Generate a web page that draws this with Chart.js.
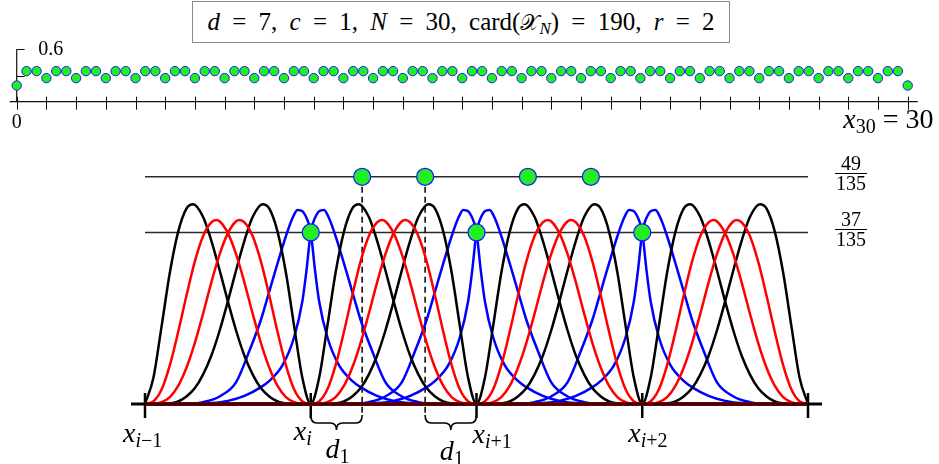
<!DOCTYPE html>
<html>
<head>
<meta charset="utf-8">
<script src="https://cdn.jsdelivr.net/npm/chart.js@4.4.1/dist/chart.umd.min.js"></script>
<style>
  html, body { margin: 0; padding: 0; background: #fff; }
  #page { position: relative; width: 939px; height: 464px; overflow: hidden;
          font-family: 'Liberation Serif', 'DejaVu Serif', serif; color: #000; }
  canvas { position: absolute; left: 0; }
  #topCanvas { top: 40px; }
  #bottomCanvas { top: 140px; }
  #title { position: absolute; left: 192px; top: 1px; width: 538px; height: 42px;
           box-sizing: border-box; border: 1px solid #8c8c8c; display: flex;
           align-items: center; justify-content: center; font-size: 25px; word-spacing: 6px;
           white-space: nowrap; }
  #title .scr { font-family: 'DejaVu Serif', 'DejaVu Sans', serif; font-size: 22px; }
  .lbl { position: absolute; white-space: nowrap; line-height: 1; }
  .sub { position: relative; }
  .bar { position: absolute; height: 0; border-top: 1.2px solid #000; }
</style>
</head>
<body>
<div id="page">
  <div id="title"><span><i>d</i> = 7, <i>c</i> = 1, <i>N</i> = 30, card(<span class="scr">𝒳</span><span class="sub" style="font-size:17px;top:4px"><i>N</i></span>) = 190, <i>r</i> = 2</span></div>
  <canvas id="topCanvas" width="939" height="100"></canvas>
  <canvas id="bottomCanvas" width="939" height="324"></canvas>
</div>
<script>
// ---------- top strip: values at the nodes on [0, 30] ----------
const topX = [
  0,
  0.33, 0.67, 1,   1.33, 1.67, 2,   2.33, 2.67, 3,   3.33, 3.67, 4,   4.33, 4.67, 5,
  5.33, 5.67, 6,   6.33, 6.67, 7,   7.33, 7.67, 8,   8.33, 8.67, 9,   9.33, 9.67, 10,
  10.33, 10.67, 11,   11.33, 11.67, 12,   12.33, 12.67, 13,   13.33, 13.67, 14,   14.33, 14.67, 15,
  15.33, 15.67, 16,   16.33, 16.67, 17,   17.33, 17.67, 18,   18.33, 18.67, 19,   19.33, 19.67, 20,
  20.33, 20.67, 21,   21.33, 21.67, 22,   22.33, 22.67, 23,   23.33, 23.67, 24,   24.33, 24.67, 25,
  25.33, 25.67, 26,   26.33, 26.67, 27,   27.33, 27.67, 28,   28.33, 28.67, 29,   29.33, 29.67, 30
];
const topY = [
  0.185,
  0.35, 0.35, 0.27,   0.35, 0.35, 0.27,   0.35, 0.35, 0.27,   0.35, 0.35, 0.27,   0.35, 0.35, 0.27,
  0.35, 0.35, 0.27,   0.35, 0.35, 0.27,   0.35, 0.35, 0.27,   0.35, 0.35, 0.27,   0.35, 0.35, 0.27,
  0.35, 0.35, 0.27,   0.35, 0.35, 0.27,   0.35, 0.35, 0.27,   0.35, 0.35, 0.27,   0.35, 0.35, 0.27,
  0.35, 0.35, 0.27,   0.35, 0.35, 0.27,   0.35, 0.35, 0.27,   0.35, 0.35, 0.27,   0.35, 0.35, 0.27,
  0.35, 0.35, 0.27,   0.35, 0.35, 0.27,   0.35, 0.35, 0.27,   0.35, 0.35, 0.27,   0.35, 0.35, 0.27,
  0.35, 0.35, 0.27,   0.35, 0.35, 0.27,   0.35, 0.35, 0.27,   0.35, 0.35, 0.27,   0.35, 0.35, 0.185
];
const topTicksX = [0, 1, 2, 3, 4, 5, 6, 7, 8, 9, 10, 11, 12, 13, 14, 15, 16, 17, 18, 19, 20,
                   21, 22, 23, 24, 25, 26, 27, 28, 29, 30];
const topTicksY = [0.3, 0.6];
const topYLabel = '0.6';
const topXFirstLabel = '0';
const topXLastLabel = ['x', '30', ' = 30'];

// ---------- bottom panel: basis functions over four intervals ----------
const knots = [0, 1, 2, 3, 4];
const knotLabels = [['x', 'i−1'], ['x', 'i'], ['x', 'i+1'], ['x', 'i+2'], null];
const blueKnots = [1, 2, 3];

// first black bump of an interval (t = position inside the interval)
const blackT = [0, 0.05, 0.10, 0.15, 0.20, 0.25, 0.29, 0.35, 0.40, 0.45, 0.50, 0.55, 0.60, 0.65, 0.70, 0.75, 0.80, 0.85, 0.90, 1];
const blackV = [0, 0.041, 0.124, 0.210, 0.275, 0.312, 0.319, 0.299, 0.261, 0.214, 0.164, 0.117, 0.077, 0.047, 0.025, 0.012, 0.004, 0.001, 0, 0];
// first red bump of an interval
const redT = [0, 0.05, 0.10, 0.15, 0.20, 0.25, 0.30, 0.35, 0.40, 0.43, 0.45, 0.50, 0.55, 0.60, 0.65, 0.70, 0.75, 0.80, 0.85, 0.90, 0.95, 1];
const redV = [0, 0.004, 0.023, 0.062, 0.115, 0.173, 0.227, 0.268, 0.290, 0.294, 0.292, 0.273, 0.239, 0.194, 0.144, 0.097, 0.058, 0.029, 0.011, 0.003, 0, 0];
// blue knot function peaking just left of its knot (u = offset from the knot)
const blueU = [-0.75, -0.65, -0.55, -0.45, -0.37, -0.30, -0.25, -0.20, -0.15, -0.11, -0.08, -0.05, -0.03, -0.015,
               0, 0.025, 0.05, 0.10, 0.17, 0.25, 0.30, 0.40, 0.50, 0.60, 0.75];
const blueV = [0, 0.003, 0.012, 0.035, 0.085, 0.135, 0.180, 0.225, 0.268, 0.297, 0.310, 0.308, 0.300, 0.290,
               0.275, 0.215, 0.165, 0.107, 0.062, 0.037, 0.027, 0.013, 0.005, 0.0015, 0];

const levels = [49 / 135, 37 / 135];
const levelText = [['49', '135'], ['37', '135']];
const upperDotsX = [1.31, 1.69, 2.31, 2.69];
const lowerDotsX = [1, 2, 3];
const dashX = [1.31, 1.69];
const braces = [[1, 1.31], [1.69, 2]];
const braceLabel = ['d', '1'];

// ---------- styles ----------
const GREEN = '#22ee22', DOT_EDGE = '#1a1aff';
const SERIF = "'Liberation Serif', 'DejaVu Serif', serif";

const page = document.getElementById('page');

// top strip axes
const topAxes = {
  id: 'topAxes',
  beforeDatasetsDraw(chart) {
    const { ctx, scales: { x, y } } = chart;
    const X0 = x.getPixelForValue(0), Y0 = y.getPixelForValue(0);
    ctx.save();
    ctx.strokeStyle = '#111';
    ctx.lineWidth = 1.2;
    ctx.beginPath();
    ctx.moveTo(X0 - 7, Y0);
    ctx.lineTo(x.getPixelForValue(30) + 10, Y0);
    ctx.moveTo(X0, Y0);
    ctx.lineTo(X0, y.getPixelForValue(0.6));
    ctx.stroke();
    ctx.lineWidth = 1;
    ctx.beginPath();
    topTicksX.forEach(v => {
      const px = Math.round(x.getPixelForValue(v)) + 0.5;
      ctx.moveTo(px, Y0 - 5);
      ctx.lineTo(px, Y0 + 8);
    });
    topTicksY.forEach(v => {
      const py = Math.round(y.getPixelForValue(v)) + 0.5;
      ctx.moveTo(X0, py);
      ctx.lineTo(X0 + 8, py);
    });
    ctx.stroke();
    ctx.restore();
  }
};

const topChart = new Chart(document.getElementById('topCanvas'), {
  type: 'scatter',
  data: {
    datasets: [{
      data: topX.map((x, i) => ({ x, y: topY[i] })),
      pointRadius: 4.7,
      pointBackgroundColor: GREEN,
      pointBorderColor: DOT_EDGE,
      pointBorderWidth: 1,
      clip: false
    }]
  },
  options: {
    responsive: false, animation: false, devicePixelRatio: 1, events: [],
    layout: { padding: { left: 16.7, right: 31.3, top: 9.3, bottom: 38.3 } },
    plugins: { legend: { display: false }, tooltip: { enabled: false } },
    scales: {
      x: { type: 'linear', min: 0, max: 30, display: false },
      y: { type: 'linear', min: 0, max: 0.6, display: false }
    }
  },
  plugins: [topAxes]
});

// bottom panel datasets
function curve(points, color, order) {
  const pts = points.slice();
  const lo = knots[0], hi = knots[knots.length - 1];
  if (pts[0].x > lo) pts.unshift({ x: lo, y: 0 });
  if (pts[pts.length - 1].x < hi) pts.push({ x: hi, y: 0 });
  return {
    data: pts, borderColor: color, borderWidth: 2.5, pointRadius: 0,
    cubicInterpolationMode: 'monotone', fill: false, clip: false, order
  };
}

const datasets = [];
for (let j = 0; j < knots.length - 1; j++) {
  const a = knots[j], b = knots[j + 1];
  datasets.push(curve(blackT.map((t, k) => ({ x: a + t * (b - a), y: blackV[k] })), '#000000', 2));
  datasets.push(curve(redT.map((t, k) => ({ x: a + t * (b - a), y: redV[k] })), '#ff0000', 1));
  datasets.push(curve(redT.map((t, k) => ({ x: b - t * (b - a), y: redV[k] })).reverse(), '#ff0000', 1));
  datasets.push(curve(blackT.map((t, k) => ({ x: b - t * (b - a), y: blackV[k] })).reverse(), '#000000', 2));
}
blueKnots.forEach(kn => {
  datasets.push(curve(blueU.map((u, k) => ({ x: kn + u, y: blueV[k] })), '#0000ff', 3));
  datasets.push(curve(blueU.map((u, k) => ({ x: kn - u, y: blueV[k] })).reverse(), '#0000ff', 3));
});
levels.forEach(lv => {
  datasets.push({
    data: [{ x: knots[0], y: lv }, { x: knots[knots.length - 1], y: lv }],
    borderColor: '#2a2a2a', borderWidth: 1.4, pointRadius: 0, fill: false, clip: false, order: 5
  });
});
dashX.forEach(dx => {
  datasets.push({
    data: [{ x: dx, y: levels[0] }, { x: dx, y: -0.015 }],
    borderColor: '#000000', borderWidth: 1.5, borderDash: [6, 4], pointRadius: 0,
    fill: false, clip: false, order: 4
  });
});
datasets.push({
  data: upperDotsX.map(x => ({ x, y: levels[0] })).concat(lowerDotsX.map(x => ({ x, y: levels[1] }))),
  showLine: false, pointRadius: 8.5, pointBackgroundColor: GREEN,
  pointBorderColor: DOT_EDGE, pointBorderWidth: 1.3, clip: false, order: 0
});

const bottomAxes = {
  id: 'bottomAxes',
  beforeDatasetsDraw(chart) {
    const { ctx, scales: { x, y } } = chart;
    const Y0 = y.getPixelForValue(0);
    ctx.save();
    ctx.strokeStyle = '#000';
    ctx.lineWidth = 2.5;
    ctx.beginPath();
    knots.forEach(k => {
      const px = x.getPixelForValue(k);
      ctx.moveTo(px, Y0 - 11);
      ctx.lineTo(px, Y0 + 14);
    });
    ctx.stroke();
    ctx.restore();
  },
  afterDatasetsDraw(chart) {
    const { ctx, scales: { x, y } } = chart;
    const Y0 = y.getPixelForValue(0);
    const xa = x.getPixelForValue(knots[0]), xb = x.getPixelForValue(knots[knots.length - 1]);
    ctx.save();
    // axis line over the zero runs of the curves
    ctx.strokeStyle = '#000';
    ctx.lineWidth = 3;
    ctx.beginPath();
    ctx.moveTo(xa - 14, Y0);
    ctx.lineTo(xb + 14, Y0);
    ctx.stroke();
    ctx.strokeStyle = '#7a0010';
    ctx.lineWidth = 1;
    ctx.beginPath();
    ctx.moveTo(xa, Y0);
    ctx.lineTo(xb, Y0);
    ctx.stroke();
    // braces marking d1
    ctx.strokeStyle = '#000';
    ctx.lineWidth = 1.6;
    braces.forEach(([u, v]) => {
      const a = x.getPixelForValue(u), b = x.getPixelForValue(v);
      const m = (a + b) / 2, h = 6;
      const y0 = Y0 + 11, y1 = Y0 + 19, y2 = Y0 + 26;
      ctx.beginPath();
      ctx.moveTo(a, y0);
      ctx.quadraticCurveTo(a, y1, a + h, y1);
      ctx.lineTo(m - h, y1);
      ctx.quadraticCurveTo(m, y1, m, y2);
      ctx.quadraticCurveTo(m, y1, m + h, y1);
      ctx.lineTo(b - h, y1);
      ctx.quadraticCurveTo(b, y1, b, y0);
      ctx.stroke();
    });
    ctx.restore();
  }
};

const bottomChart = new Chart(document.getElementById('bottomCanvas'), {
  type: 'line',
  data: { datasets },
  options: {
    responsive: false, animation: false, devicePixelRatio: 1, events: [],
    layout: { padding: { left: 145, right: 131, top: 13.6, bottom: 60 } },
    plugins: { legend: { display: false }, tooltip: { enabled: false } },
    scales: {
      x: { type: 'linear', min: knots[0], max: knots[knots.length - 1], display: false },
      y: { type: 'linear', min: 0, max: 0.4, display: false }
    }
  },
  plugins: [bottomAxes]
});

// ---------- text labels ----------
function subHtml(s) {
  return s.replace(/([A-Za-z])/g, '<i>$1</i>');
}
function mathLabel(base, sub, rest, size, subSize) {
  return '<i>' + base + '</i><span class="sub" style="font-size:' + subSize + 'px;top:' +
    Math.round(subSize * 0.25) + 'px">' + subHtml(sub) + '</span>' + (rest || '');
}
const made = [];
function label(html, x, baseline, size, align) {
  const el = document.createElement('div');
  el.className = 'lbl';
  el.style.fontSize = size + 'px';
  el.style.fontFamily = SERIF;
  el.innerHTML = html + '<span class="bl" style="display:inline-block;width:0;height:0"></span>';
  page.appendChild(el);
  made.push(el);
  const mark = el.querySelector('.bl');
  el.style.left = (x - align * el.offsetWidth) + 'px';
  el.style.top = (baseline - mark.offsetTop) + 'px';
  return el;
}
function bar(x1, x2, yPos) {
  const el = document.createElement('div');
  el.className = 'bar';
  el.style.left = x1 + 'px';
  el.style.width = (x2 - x1) + 'px';
  el.style.top = yPos + 'px';
  page.appendChild(el);
  made.push(el);
}

function placeLabels() {
  made.splice(0).forEach(el => el.remove());
  const topOff = 40, botOff = 140;
  const tx = topChart.scales.x, ty = topChart.scales.y;
  const X0 = tx.getPixelForValue(0), Y0 = topOff + ty.getPixelForValue(0);
  label(topYLabel, X0 + 21.5, topOff + ty.getPixelForValue(0.6) + 5.7, 20, 0);
  label(topXFirstLabel, X0, Y0 + 26.5, 20, 0.5);
  label(mathLabel(topXLastLabel[0], topXLastLabel[1], topXLastLabel[2].replace(/ /g, '&nbsp;'), 28, 20),
        tx.getPixelForValue(30) + 25.5, Y0 + 26.5, 28, 1);

  const bx = bottomChart.scales.x, by = bottomChart.scales.y;
  const B0 = botOff + by.getPixelForValue(0);
  const knotLabelOffsets = [[-22, 38], [-17, 36], [-4, 39], [-14, 38]];
  knotLabels.forEach((lb, i) => {
    if (!lb) return;
    const [dx, dy] = knotLabelOffsets[i];
    label(mathLabel(lb[0], lb[1], '', 28, 20), bx.getPixelForValue(knots[i]) + dx, B0 + dy, 28, 0);
  });
  const braceBase = [54, 56];
  braces.forEach(([u, v], i) => {
    const m = (bx.getPixelForValue(u) + bx.getPixelForValue(v)) / 2;
    label(mathLabel(braceLabel[0], braceLabel[1], '', 28, 20), m + 1, B0 + braceBase[i], 28, 0.5);
  });
  const fx = bx.getPixelForValue(knots[knots.length - 1]);
  levels.forEach((lv, i) => {
    const ly = botOff + by.getPixelForValue(lv);
    label(levelText[i][0], fx + 43, ly - 6.3, 20, 0.5);
    bar(fx + 27, fx + 59, ly - 3.5);
    label(levelText[i][1], fx + 43, ly + 13.2, 20, 0.5);
  });
}
placeLabels();
if (document.fonts && document.fonts.ready) document.fonts.ready.then(placeLabels);
</script>
</body>
</html>
